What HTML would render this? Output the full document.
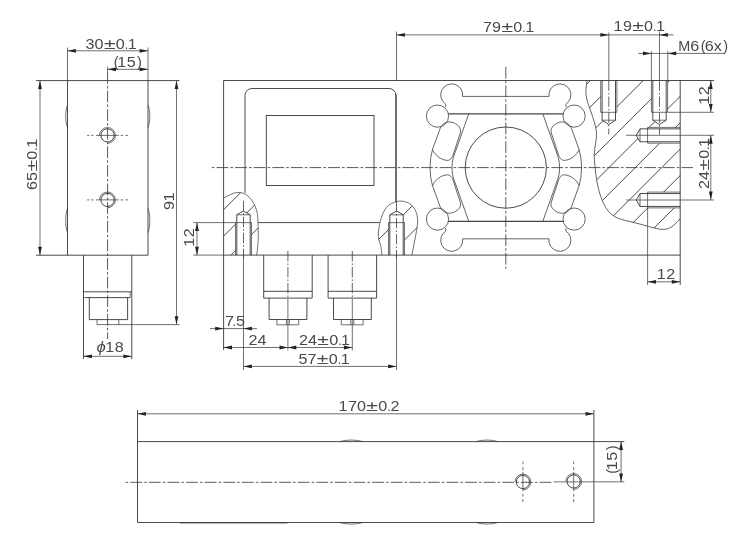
<!DOCTYPE html>
<html><head><meta charset="utf-8"><title>Dimensional drawing</title>
<style>
html,body{margin:0;padding:0;background:#fff;}
svg{display:block;}
.m{fill:none;stroke:#2b2b2b;stroke-width:0.85;}
.m2{fill:none;stroke:#444;stroke-width:1.15;}
.t{fill:none;stroke:#333;stroke-width:0.7;}
.c{fill:none;stroke:#3c3c3c;stroke-width:0.85;stroke-dasharray:11.8 2.1 2.6 2.1;}
.c2{fill:none;stroke:#3c3c3c;stroke-width:0.8;stroke-dasharray:10.4 2 1.6 2;}
.d{fill:none;stroke:#333;stroke-width:0.7;stroke-dasharray:3 2;}
.a{fill:#222;stroke:none;}
.h{fill:none;stroke:#2b2b2b;stroke-width:0.85;}
.n{fill:none;stroke:#333;stroke-width:0.75;}
text{font-family:"Liberation Sans",sans-serif;fill:#4a4a4a;}
svg{will-change:transform;}
</style></head><body>
<svg width="745" height="550" viewBox="0 0 745 550">
<defs>
<clipPath id="cpL"><path clip-rule="evenodd" d="M223.6,198.2 C229,195 234,192.4 239,192.5 C245,192.7 250.5,196 255.4,207 C257.5,212 258,217 257.9,222.5 C258.5,230 258.7,243 256.6,255.1 L223.6,255.1 Z M235.5,222.6 H251.5 V255.1 H235.5 Z M236.8,222.6 V214.8 L243.5,211 L250.2,214.8 V222.6 Z"/></clipPath>
<clipPath id="cpR"><path clip-rule="evenodd" d="M381.9,255.1 C381.5,250 381.2,248 380.6,245.4 C379.5,241 378.2,239 378.3,235.2 C378.3,231 379,227 380,222.5 C381.3,217 383,212.5 385.7,208.4 C388,205.3 390.5,203.8 393.4,202.7 C396,201.6 398.5,201 401,201.1 C404.5,201.2 407.5,202.2 409.9,203.9 C412.5,205.8 414.5,208 415.7,211 C417,214.2 417.6,217.5 417.6,221.2 C417.6,226 416.6,231 415.7,235.2 L411.9,255.1 Z M388.5,222.6 H404.5 V255.1 H388.5 Z M389.8,222.6 V214.8 L396.5,211 L403.2,214.8 V222.6 Z"/></clipPath>
<clipPath id="cpS"><path clip-rule="evenodd" d="M587.2,80.5 C586,86 585.6,91 586.1,95.1 C586.8,101 589,106 590.7,110.9 C593,118 596,126 596.5,132.4 C597,140 594.5,146 594.3,154 C594.2,158 594.4,161 594.8,164.4 C595.3,170 596,177 597.2,183 C598.3,189 600,195 602.2,200.3 C604.3,205.5 607,210.5 610.9,213.9 C615,217.5 620,219.2 625.2,220.4 C631,221.8 637,223.3 642.4,224.7 C647.5,226 652,227.6 656.8,228.6 C661,229.5 665,229.8 668.5,228.5 C673,226.8 677,222.5 680.2,218.5 L680.2,80.5 Z M600.7,80.5 H616.9 V112.3 H600.7 Z M602.1,112.3 V120.2 L608.8,124.5 L615.5,120.2 V112.3 Z M651.4,80.5 H667.6 V112.3 H651.4 Z M652.8,112.3 V120.2 L659.5,124.5 L666.2,120.2 V112.3 Z M680.2,127.4 H647.6 V143.2 H680.2 Z M647.6,128.85 H640 L636.3,135.3 L640,141.75 H647.6 Z M680.2,192.1 H647.6 V207.9 H680.2 Z M647.6,193.55 H640 L636.3,200 L640,206.45 H647.6 Z"/></clipPath>
</defs>
<line class="m" x1="36" y1="80.6" x2="179.5" y2="80.6"/>
<line class="m" x1="36" y1="255.2" x2="148.0" y2="255.2"/>
<line class="t" x1="67.5" y1="47.5" x2="67.5" y2="80.6"/>
<line class="m" x1="67.5" y1="80.6" x2="67.5" y2="255.2"/>
<line class="t" x1="148.0" y1="47.5" x2="148.0" y2="80.6"/>
<line class="m" x1="148.0" y1="80.6" x2="148.0" y2="255.2"/>
<path class="t" d="M67.5,105 C65.1,111 65.1,121.5 67.5,127.5"/>
<path class="t" d="M148.0,105 C150.4,111 150.4,121.5 148.0,127.5"/>
<path class="t" d="M67.5,208.5 C65.1,214.5 65.1,226.5 67.5,232.5"/>
<path class="t" d="M148.0,208.5 C150.4,214.5 150.4,226.5 148.0,232.5"/>
<line class="c" x1="107.6" y1="72" x2="107.6" y2="339"/>
<circle class="m" cx="107.5" cy="135.4" r="6.6"/>
<path class="t" d="M99.6,135.4 A7.9,7.9 0 1 1 107.5,143.3"/>
<path class="t" d="M87.1,135.4 h2.3 M91.2,135.4 h2.3 M96,135.4 H118.8 M120.7,135.4 h2.4 M125.4,135.4 h2.6"/>
<circle class="m" cx="107.5" cy="199.9" r="6.6"/>
<path class="t" d="M99.6,199.9 A7.9,7.9 0 1 1 107.5,207.8"/>
<path class="t" d="M87.1,199.9 h2.3 M91.2,199.9 h2.3 M96,199.9 H118.8 M120.7,199.9 h2.4 M125.4,199.9 h2.6"/>
<line class="m" x1="83.5" y1="255.2" x2="83.5" y2="359"/>
<line class="m" x1="131.8" y1="255.2" x2="131.8" y2="359"/>
<line class="m" x1="83.5" y1="291.8" x2="131.8" y2="291.8"/>
<line class="m" x1="84.3" y1="297.6" x2="130.20000000000002" y2="297.6"/>
<line class="t" x1="130.20000000000002" y1="291.8" x2="130.20000000000002" y2="297.6"/>
<path class="m" d="M89.3,297.6 V319.6 H127.6 V297.6"/>
<path class="t" d="M97,319.6 V324.6 H179.5"/>
<line class="t" x1="118.8" y1="319.6" x2="118.8" y2="324.6"/>
<line class="t" x1="67.5" y1="50.8" x2="148.0" y2="50.8"/>
<polygon class="a" points="67.50,50.80 75.90,48.90 75.90,52.70"/>
<polygon class="a" points="148.00,50.80 139.60,48.90 139.60,52.70"/>
<text transform="translate(85.6,48.9)" font-size="14.5"><tspan x="0.00" textLength="9.0" lengthAdjust="spacingAndGlyphs">3</tspan><tspan x="9.00" textLength="9.0" lengthAdjust="spacingAndGlyphs">0</tspan><tspan x="18.30" textLength="11.6" lengthAdjust="spacingAndGlyphs">±</tspan><tspan x="30.20" textLength="9.0" lengthAdjust="spacingAndGlyphs">0</tspan><tspan x="39.20" textLength="3.4" lengthAdjust="spacingAndGlyphs">.</tspan><tspan x="42.10" textLength="9.0" lengthAdjust="spacingAndGlyphs">1</tspan></text>
<line class="t" x1="107.6" y1="69.3" x2="148.0" y2="69.3"/>
<polygon class="a" points="107.60,69.30 116.00,67.40 116.00,71.20"/>
<polygon class="a" points="148.00,69.30 139.60,67.40 139.60,71.20"/>
<line class="t" x1="107.6" y1="66.6" x2="107.6" y2="72"/>
<text transform="translate(113.7,66.7)" font-size="14.5"><tspan x="0.00">(</tspan><tspan x="3.50" textLength="9.0" lengthAdjust="spacingAndGlyphs">1</tspan><tspan x="13.00" textLength="9.0" lengthAdjust="spacingAndGlyphs">5</tspan><tspan x="23.40">)</tspan></text>
<line class="t" x1="40" y1="80.6" x2="40" y2="255.2"/>
<polygon class="a" points="40.00,80.60 38.10,89.00 41.90,89.00"/>
<polygon class="a" points="40.00,255.20 38.10,246.80 41.90,246.80"/>
<text transform="translate(37.3,189.9) rotate(-90)" font-size="14.5"><tspan x="0.00" textLength="9.0" lengthAdjust="spacingAndGlyphs">6</tspan><tspan x="9.00" textLength="9.0" lengthAdjust="spacingAndGlyphs">5</tspan><tspan x="18.30" textLength="11.6" lengthAdjust="spacingAndGlyphs">±</tspan><tspan x="30.20" textLength="9.0" lengthAdjust="spacingAndGlyphs">0</tspan><tspan x="39.20" textLength="3.4" lengthAdjust="spacingAndGlyphs">.</tspan><tspan x="42.10" textLength="9.0" lengthAdjust="spacingAndGlyphs">1</tspan></text>
<line class="t" x1="176.5" y1="80.6" x2="176.5" y2="324.6"/>
<polygon class="a" points="176.50,80.60 174.60,89.00 178.40,89.00"/>
<polygon class="a" points="176.50,324.60 174.60,316.20 178.40,316.20"/>
<text transform="translate(174.2,209.9) rotate(-90)" font-size="14.5"><tspan x="0.00" textLength="9.0" lengthAdjust="spacingAndGlyphs">9</tspan><tspan x="8.50" textLength="9.0" lengthAdjust="spacingAndGlyphs">1</tspan></text>
<line class="t" x1="83.5" y1="356.3" x2="131.8" y2="356.3"/>
<polygon class="a" points="83.50,356.30 91.90,354.40 91.90,358.20"/>
<polygon class="a" points="131.80,356.30 123.40,354.40 123.40,358.20"/>
<text transform="translate(96.5,352.0)" font-size="14.5"><tspan x="0.00" font-style="italic" textLength="9.3" lengthAdjust="spacingAndGlyphs">ϕ</tspan><tspan x="8.80" textLength="9.0" lengthAdjust="spacingAndGlyphs">1</tspan><tspan x="18.30" textLength="9.0" lengthAdjust="spacingAndGlyphs">8</tspan></text>
<line class="m" x1="223.6" y1="80.5" x2="714" y2="80.5"/>
<line class="m" x1="223.6" y1="255.1" x2="680.2" y2="255.1"/>
<line class="m" x1="223.6" y1="80.5" x2="223.6" y2="350"/>
<line class="m" x1="680.2" y1="80.5" x2="680.2" y2="285"/>
<line class="c" stroke-dashoffset="13.5" x1="211.4" y1="167.6" x2="693" y2="167.6"/>
<path class="m" d="M245,192.8 V95.5 A7,7 0 0 1 252,88.5 H389 A7,7 0 0 1 396,95.5 V202"/>
<line class="m" x1="396" y1="94" x2="396" y2="202"/>
<rect class="m" x="266.3" y="115.5" width="107.7" height="70.0"/>
<line class="t" x1="193.3" y1="222.6" x2="235.6" y2="222.6"/>
<line class="m" x1="257.9" y1="222.6" x2="379.8" y2="222.6"/>
<path class="t" d="M223.6,198.2 C229,195 234,192.4 239,192.5 C245,192.7 250.5,196 255.4,207 C257.5,212 258,217 257.9,222.5 C258.5,230 258.7,243 256.6,255.1"/>
<path class="t" d="M381.9,255.1 C381.5,250 381.2,248 380.6,245.4 C379.5,241 378.2,239 378.3,235.2 C378.3,231 379,227 380,222.5 C381.3,217 383,212.5 385.7,208.4 C388,205.3 390.5,203.8 393.4,202.7 C396,201.6 398.5,201 401,201.1 C404.5,201.2 407.5,202.2 409.9,203.9 C412.5,205.8 414.5,208 415.7,211 C417,214.2 417.6,217.5 417.6,221.2 C417.6,226 416.6,231 415.7,235.2 L411.9,255.1"/>
<line class="t" x1="235.5" y1="222.6" x2="235.5" y2="255.1"/>
<line class="t" x1="251.5" y1="222.6" x2="251.5" y2="255.1"/>
<line class="t" x1="235.5" y1="222.6" x2="251.5" y2="222.6"/>
<path class="m" d="M236.8,255.1 V214.8 L243.5,211 L250.2,214.8 V255.1"/>
<line class="t" x1="236.8" y1="214.8" x2="250.2" y2="214.8"/>
<line class="t" x1="388.5" y1="222.6" x2="388.5" y2="255.1"/>
<line class="t" x1="404.5" y1="222.6" x2="404.5" y2="255.1"/>
<line class="t" x1="388.5" y1="222.6" x2="404.5" y2="222.6"/>
<path class="m" d="M389.8,255.1 V214.8 L396.5,211 L403.2,214.8 V255.1"/>
<line class="t" x1="389.8" y1="214.8" x2="403.2" y2="214.8"/>
<line class="c2" x1="243.5" y1="200.8" x2="243.5" y2="258"/>
<line class="t" x1="243.5" y1="255" x2="243.5" y2="370"/>
<line class="c2" x1="396.5" y1="202" x2="396.5" y2="258"/>
<line class="t" x1="396.5" y1="255" x2="396.5" y2="370"/>
<line class="t" x1="396.5" y1="31.5" x2="396.5" y2="80.5"/>
<g clip-path="url(#cpL)"><path class="h" d="M80.5,300 L320.5,60 M106.9,300 L346.9,60 M133.3,300 L373.3,60 M159.7,300 L399.7,60 M186.1,300 L426.1,60 M212.5,300 L452.5,60 M238.9,300 L478.9,60 M265.3,300 L505.3,60 M291.7,300 L531.7,60 M318.1,300 L558.1,60 M344.5,300 L584.5,60 M370.9,300 L610.9,60 M397.3,300 L637.3,60 M423.7,300 L663.7,60 M450.1,300 L690.1,60 M476.5,300 L716.5,60 M502.9,300 L742.9,60 M529.3,300 L769.3,60 M555.7,300 L795.7,60 M582.1,300 L822.1,60 M608.5,300 L848.5,60 M634.9,300 L874.9,60 M661.3,300 L901.3,60 M687.7,300 L927.7,60"/></g>
<g clip-path="url(#cpR)"><path class="h" d="M80.5,300 L320.5,60 M106.9,300 L346.9,60 M133.3,300 L373.3,60 M159.7,300 L399.7,60 M186.1,300 L426.1,60 M212.5,300 L452.5,60 M238.9,300 L478.9,60 M265.3,300 L505.3,60 M291.7,300 L531.7,60 M318.1,300 L558.1,60 M344.5,300 L584.5,60 M370.9,300 L610.9,60 M397.3,300 L637.3,60 M423.7,300 L663.7,60 M450.1,300 L690.1,60 M476.5,300 L716.5,60 M502.9,300 L742.9,60 M529.3,300 L769.3,60 M555.7,300 L795.7,60 M582.1,300 L822.1,60 M608.5,300 L848.5,60 M634.9,300 L874.9,60 M661.3,300 L901.3,60 M687.7,300 L927.7,60"/></g>
<line class="m" x1="263.7" y1="255.1" x2="263.7" y2="298.1"/>
<line class="m" x1="312.2" y1="255.1" x2="312.2" y2="298.1"/>
<line class="m" x1="263.7" y1="291.3" x2="312.2" y2="291.3"/>
<line class="m" x1="263.7" y1="298.1" x2="312.2" y2="298.1"/>
<path class="m" d="M269.09999999999997,298.1 V319.5 H306.9 V298.1"/>
<path class="t" d="M276.9,319.5 V324.8 H298.7 V319.5"/>
<path class="t" d="M286.4,319.5 V324.8 M289.4,319.5 V324.8"/>
<line class="c2" x1="287.9" y1="251" x2="287.9" y2="299"/>
<line class="t" x1="287.9" y1="299" x2="287.9" y2="350.4"/>
<line class="m" x1="328.1" y1="255.1" x2="328.1" y2="298.1"/>
<line class="m" x1="376.6" y1="255.1" x2="376.6" y2="298.1"/>
<line class="m" x1="328.1" y1="291.3" x2="376.6" y2="291.3"/>
<line class="m" x1="328.1" y1="298.1" x2="376.6" y2="298.1"/>
<path class="m" d="M333.5,298.1 V319.5 H371.3 V298.1"/>
<path class="t" d="M341.3,319.5 V324.8 H363.1 V319.5"/>
<path class="t" d="M350.8,319.5 V324.8 M353.8,319.5 V324.8"/>
<line class="c2" x1="352.3" y1="251" x2="352.3" y2="299"/>
<line class="t" x1="352.3" y1="299" x2="352.3" y2="350.4"/>
<circle class="m" cx="505.8" cy="167.6" r="40.6"/>
<line class="c" x1="505.8" y1="66.8" x2="505.8" y2="268.8"/>
<path class="n" d="M441.00,126.60 C444.00,122.30 448.50,121.30 452.00,122.30 C456.80,123.60 461.00,127.00 460.60,132.00 L453.40,154.00 C452.40,158.00 449.80,160.50 447.30,160.40 C441.00,160.00 435.00,155.50 432.50,149.50"/>
<path class="n" d="M440.70,126.90 L432.50,149.50 Q430.00,158.00 430.00,167.60"/>
<path class="n" d="M468.70,114.10 L453.30,157.50 Q452.00,162.00 452.00,167.60"/>
<path class="n" d="M441.00,208.60 C444.00,212.90 448.50,213.90 452.00,212.90 C456.80,211.60 461.00,208.20 460.60,203.20 L453.40,181.20 C452.40,177.20 449.80,174.70 447.30,174.80 C441.00,175.20 435.00,179.70 432.50,185.70"/>
<path class="n" d="M440.70,208.30 L432.50,185.70 Q430.00,177.20 430.00,167.60"/>
<path class="n" d="M468.70,221.10 L453.30,177.70 Q452.00,173.20 452.00,167.60"/>
<path class="n" d="M570.60,126.60 C567.60,122.30 563.10,121.30 559.60,122.30 C554.80,123.60 550.60,127.00 551.00,132.00 L558.20,154.00 C559.20,158.00 561.80,160.50 564.30,160.40 C570.60,160.00 576.60,155.50 579.10,149.50"/>
<path class="n" d="M570.90,126.90 L579.10,149.50 Q581.60,158.00 581.60,167.60"/>
<path class="n" d="M542.90,114.10 L558.30,157.50 Q559.60,162.00 559.60,167.60"/>
<path class="n" d="M570.60,208.60 C567.60,212.90 563.10,213.90 559.60,212.90 C554.80,211.60 550.60,208.20 551.00,203.20 L558.20,181.20 C559.20,177.20 561.80,174.70 564.30,174.80 C570.60,175.20 576.60,179.70 579.10,185.70"/>
<path class="n" d="M570.90,208.30 L579.10,185.70 Q581.60,177.20 581.60,167.60"/>
<path class="n" d="M542.90,221.10 L558.30,177.70 Q559.60,173.20 559.60,167.60"/>
<circle class="n" cx="437.5" cy="116.1" r="11.1"/>
<circle class="n" cx="437.5" cy="219.1" r="11.1"/>
<circle class="n" cx="574.1" cy="116.1" r="11.1"/>
<circle class="n" cx="574.1" cy="219.1" r="11.1"/>
<path class="n" d="M462.60,96.4 H549.00 A11,11 0 1 1 565.90,104.12 V107.0 M445.7,107.0 V104.12 A11,11 0 1 1 462.60,96.4"/>
<line class="m2" x1="448.3" y1="113.8" x2="563.3" y2="113.8"/>
<path class="n" d="M462.60,238.79999999999998 H549.00 A11,11 0 1 0 565.90,231.08 V228.2 M445.7,228.2 V231.08 A11,11 0 1 0 462.60,238.79999999999998"/>
<line class="m2" x1="448.3" y1="221.39999999999998" x2="563.3" y2="221.39999999999998"/>
<path class="n" d="M587.2,80.5 C586,86 585.6,91 586.1,95.1 C586.8,101 589,106 590.7,110.9 C593,118 596,126 596.5,132.4 C597,140 594.5,146 594.3,154 C594.2,158 594.4,161 594.8,164.4 C595.3,170 596,177 597.2,183 C598.3,189 600,195 602.2,200.3 C604.3,205.5 607,210.5 610.9,213.9 C615,217.5 620,219.2 625.2,220.4 C631,221.8 637,223.3 642.4,224.7 C647.5,226 652,227.6 656.8,228.6 C661,229.5 665,229.8 668.5,228.5 C673,226.8 677,222.5 680.2,218.5"/>
<g clip-path="url(#cpS)"><path class="h" d="M80.5,300 L320.5,60 M106.9,300 L346.9,60 M133.3,300 L373.3,60 M159.7,300 L399.7,60 M186.1,300 L426.1,60 M212.5,300 L452.5,60 M238.9,300 L478.9,60 M265.3,300 L505.3,60 M291.7,300 L531.7,60 M318.1,300 L558.1,60 M344.5,300 L584.5,60 M370.9,300 L610.9,60 M397.3,300 L637.3,60 M423.7,300 L663.7,60 M450.1,300 L690.1,60 M476.5,300 L716.5,60 M502.9,300 L742.9,60 M529.3,300 L769.3,60 M555.7,300 L795.7,60 M582.1,300 L822.1,60 M608.5,300 L848.5,60 M634.9,300 L874.9,60 M661.3,300 L901.3,60 M687.7,300 L927.7,60"/></g>
<line class="t" x1="600.6999999999999" y1="80.5" x2="600.6999999999999" y2="112.3"/>
<line class="t" x1="616.9" y1="80.5" x2="616.9" y2="112.3"/>
<line class="t" x1="600.6999999999999" y1="112.3" x2="616.9" y2="112.3"/>
<path class="m" d="M602.0999999999999,80.5 V120.2 L608.8,124.5 L615.5,120.2 V80.5"/>
<line class="t" x1="602.0999999999999" y1="120.2" x2="615.5" y2="120.2"/>
<line class="t" x1="651.4" y1="80.5" x2="651.4" y2="112.3"/>
<line class="t" x1="667.6" y1="80.5" x2="667.6" y2="112.3"/>
<line class="t" x1="651.4" y1="112.3" x2="667.6" y2="112.3"/>
<path class="m" d="M652.8,80.5 V120.2 L659.5,124.5 L666.2,120.2 V80.5"/>
<line class="t" x1="652.8" y1="120.2" x2="666.2" y2="120.2"/>
<line class="t" x1="608.8" y1="32.5" x2="608.8" y2="80.5"/>
<line class="c2" x1="608.8" y1="80.5" x2="608.8" y2="134.6"/>
<line class="t" x1="659.5" y1="31.4" x2="659.5" y2="80.5"/>
<line class="c2" x1="659.5" y1="80.5" x2="659.5" y2="134.6"/>
<line class="t" x1="647.6" y1="127.4" x2="680.2" y2="127.4"/>
<line class="t" x1="647.6" y1="143.20000000000002" x2="680.2" y2="143.20000000000002"/>
<line class="t" x1="647.6" y1="127.4" x2="647.6" y2="143.20000000000002"/>
<path class="m" d="M680.2,128.85000000000002 H640 L636.3,135.3 L640,141.75 H680.2"/>
<line class="t" x1="640" y1="128.85000000000002" x2="640" y2="141.75"/>
<line class="t" x1="647.6" y1="192.1" x2="680.2" y2="192.1"/>
<line class="t" x1="647.6" y1="207.9" x2="680.2" y2="207.9"/>
<line class="t" x1="647.6" y1="192.1" x2="647.6" y2="207.9"/>
<path class="m" d="M680.2,193.55 H640 L636.3,200.0 L640,206.45 H680.2"/>
<line class="t" x1="640" y1="193.55" x2="640" y2="206.45"/>
<line class="t" x1="626" y1="135.3" x2="714" y2="135.3"/>
<line class="t" x1="626" y1="200" x2="714" y2="200"/>
<line class="t" x1="647.6" y1="207.9" x2="647.6" y2="285"/>
<line class="t" x1="651.4" y1="50.8" x2="651.4" y2="80.5"/>
<line class="t" x1="667.8" y1="50.8" x2="667.8" y2="80.5"/>
<line class="t" x1="396.5" y1="34.9" x2="673.6" y2="34.9"/>
<polygon class="a" points="396.50,34.90 404.90,33.00 404.90,36.80"/>
<polygon class="a" points="608.80,34.90 600.40,33.00 600.40,36.80"/>
<polygon class="a" points="659.50,34.90 667.90,33.00 667.90,36.80"/>
<text transform="translate(483.1,31.7)" font-size="14.5"><tspan x="0.00" textLength="9.0" lengthAdjust="spacingAndGlyphs">7</tspan><tspan x="9.00" textLength="9.0" lengthAdjust="spacingAndGlyphs">9</tspan><tspan x="18.30" textLength="11.6" lengthAdjust="spacingAndGlyphs">±</tspan><tspan x="30.20" textLength="9.0" lengthAdjust="spacingAndGlyphs">0</tspan><tspan x="39.20" textLength="3.4" lengthAdjust="spacingAndGlyphs">.</tspan><tspan x="42.10" textLength="9.0" lengthAdjust="spacingAndGlyphs">1</tspan></text>
<text transform="translate(613.9,31.4)" font-size="14.5"><tspan x="-0.50" textLength="9.0" lengthAdjust="spacingAndGlyphs">1</tspan><tspan x="9.00" textLength="9.0" lengthAdjust="spacingAndGlyphs">9</tspan><tspan x="18.30" textLength="11.6" lengthAdjust="spacingAndGlyphs">±</tspan><tspan x="30.20" textLength="9.0" lengthAdjust="spacingAndGlyphs">0</tspan><tspan x="39.20" textLength="3.4" lengthAdjust="spacingAndGlyphs">.</tspan><tspan x="42.10" textLength="9.0" lengthAdjust="spacingAndGlyphs">1</tspan></text>
<line class="t" x1="638.2" y1="53.4" x2="724.8" y2="53.4"/>
<polygon class="a" points="651.40,53.40 643.00,51.50 643.00,55.30"/>
<polygon class="a" points="667.80,53.40 676.20,51.50 676.20,55.30"/>
<text transform="translate(678.2,51.3)" font-size="14.5"><tspan x="0.00" textLength="12.0" lengthAdjust="spacingAndGlyphs">M</tspan><tspan x="12.00" textLength="9.0" lengthAdjust="spacingAndGlyphs">6</tspan><tspan x="22.60">(</tspan><tspan x="26.60" textLength="9.0" lengthAdjust="spacingAndGlyphs">6</tspan><tspan x="35.60" textLength="8.1" lengthAdjust="spacingAndGlyphs">x</tspan><tspan x="45.10">)</tspan></text>
<line class="t" x1="667.8" y1="112.3" x2="714" y2="112.3"/>
<line class="t" x1="710.8" y1="80.5" x2="710.8" y2="112.3"/>
<polygon class="a" points="710.80,80.50 708.90,88.90 712.70,88.90"/>
<polygon class="a" points="710.80,112.30 708.90,103.90 712.70,103.90"/>
<text transform="translate(709.2,104.2) rotate(-90)" font-size="14.5"><tspan x="-0.50" textLength="9.0" lengthAdjust="spacingAndGlyphs">1</tspan><tspan x="9.00" textLength="9.0" lengthAdjust="spacingAndGlyphs">2</tspan></text>
<line class="t" x1="710.8" y1="135.3" x2="710.8" y2="200"/>
<polygon class="a" points="710.80,135.30 708.90,143.70 712.70,143.70"/>
<polygon class="a" points="710.80,200.00 708.90,191.60 712.70,191.60"/>
<text transform="translate(709.2,189.0) rotate(-90)" font-size="14.5"><tspan x="0.00" textLength="9.0" lengthAdjust="spacingAndGlyphs">2</tspan><tspan x="9.00" textLength="9.0" lengthAdjust="spacingAndGlyphs">4</tspan><tspan x="18.30" textLength="11.6" lengthAdjust="spacingAndGlyphs">±</tspan><tspan x="30.20" textLength="9.0" lengthAdjust="spacingAndGlyphs">0</tspan><tspan x="39.20" textLength="3.4" lengthAdjust="spacingAndGlyphs">.</tspan><tspan x="42.10" textLength="9.0" lengthAdjust="spacingAndGlyphs">1</tspan></text>
<line class="t" x1="647.6" y1="281.8" x2="680.2" y2="281.8"/>
<polygon class="a" points="647.60,281.80 656.00,279.90 656.00,283.70"/>
<polygon class="a" points="680.20,281.80 671.80,279.90 671.80,283.70"/>
<text transform="translate(657.3,279.3)" font-size="14.5"><tspan x="-0.50" textLength="9.0" lengthAdjust="spacingAndGlyphs">1</tspan><tspan x="9.00" textLength="9.0" lengthAdjust="spacingAndGlyphs">2</tspan></text>
<line class="t" x1="197" y1="222.6" x2="197" y2="255.1"/>
<polygon class="a" points="197.00,222.60 195.10,231.00 198.90,231.00"/>
<polygon class="a" points="197.00,255.10 195.10,246.70 198.90,246.70"/>
<line class="t" x1="193.3" y1="255.1" x2="223.6" y2="255.1"/>
<text transform="translate(193.6,246.2) rotate(-90)" font-size="14.5"><tspan x="-0.50" textLength="9.0" lengthAdjust="spacingAndGlyphs">1</tspan><tspan x="9.00" textLength="9.0" lengthAdjust="spacingAndGlyphs">2</tspan></text>
<line class="t" x1="210" y1="328.6" x2="257" y2="328.6"/>
<polygon class="a" points="223.60,328.60 215.20,326.70 215.20,330.50"/>
<polygon class="a" points="243.50,328.60 251.90,326.70 251.90,330.50"/>
<text transform="translate(225.1,326.1)" font-size="14.5"><tspan x="0.00" textLength="9.0" lengthAdjust="spacingAndGlyphs">7</tspan><tspan x="7.50" textLength="3.4" lengthAdjust="spacingAndGlyphs">.</tspan><tspan x="10.90" textLength="9.0" lengthAdjust="spacingAndGlyphs">5</tspan></text>
<line class="t" x1="223.6" y1="347.5" x2="352.3" y2="347.5"/>
<polygon class="a" points="223.60,347.50 232.00,345.60 232.00,349.40"/>
<polygon class="a" points="287.90,347.50 279.50,345.60 279.50,349.40"/>
<polygon class="a" points="287.90,347.50 296.30,345.60 296.30,349.40"/>
<polygon class="a" points="352.30,347.50 343.90,345.60 343.90,349.40"/>
<text transform="translate(248.6,345.2)" font-size="14.5"><tspan x="0.00" textLength="9.0" lengthAdjust="spacingAndGlyphs">2</tspan><tspan x="9.00" textLength="9.0" lengthAdjust="spacingAndGlyphs">4</tspan></text>
<text transform="translate(299.0,345.0)" font-size="14.5"><tspan x="0.00" textLength="9.0" lengthAdjust="spacingAndGlyphs">2</tspan><tspan x="9.00" textLength="9.0" lengthAdjust="spacingAndGlyphs">4</tspan><tspan x="18.30" textLength="11.6" lengthAdjust="spacingAndGlyphs">±</tspan><tspan x="30.20" textLength="9.0" lengthAdjust="spacingAndGlyphs">0</tspan><tspan x="39.20" textLength="3.4" lengthAdjust="spacingAndGlyphs">.</tspan><tspan x="42.10" textLength="9.0" lengthAdjust="spacingAndGlyphs">1</tspan></text>
<line class="t" x1="243.5" y1="366.4" x2="396.5" y2="366.4"/>
<polygon class="a" points="243.50,366.40 251.90,364.50 251.90,368.30"/>
<polygon class="a" points="396.50,366.40 388.10,364.50 388.10,368.30"/>
<text transform="translate(298.55,363.6)" font-size="14.5"><tspan x="0.00" textLength="9.0" lengthAdjust="spacingAndGlyphs">5</tspan><tspan x="9.00" textLength="9.0" lengthAdjust="spacingAndGlyphs">7</tspan><tspan x="18.30" textLength="11.6" lengthAdjust="spacingAndGlyphs">±</tspan><tspan x="30.20" textLength="9.0" lengthAdjust="spacingAndGlyphs">0</tspan><tspan x="39.20" textLength="3.4" lengthAdjust="spacingAndGlyphs">.</tspan><tspan x="42.10" textLength="9.0" lengthAdjust="spacingAndGlyphs">1</tspan></text>
<line class="m" x1="137.5" y1="410" x2="137.5" y2="522.5"/>
<line class="m" x1="593.9" y1="410" x2="593.9" y2="522.5"/>
<line class="m" x1="137.5" y1="441.6" x2="624.3" y2="441.6"/>
<line class="m" x1="137.5" y1="522.5" x2="593.9" y2="522.5"/>
<line class="c" stroke-dashoffset="13.8" x1="125.5" y1="482.3" x2="552.5" y2="482.3"/>
<line class="t" x1="553.5" y1="481.9" x2="624.3" y2="481.8"/>
<line class="t" x1="137.5" y1="413.8" x2="593.9" y2="413.8"/>
<polygon class="a" points="137.50,413.80 145.90,411.90 145.90,415.70"/>
<polygon class="a" points="593.90,413.80 585.50,411.90 585.50,415.70"/>
<text transform="translate(339.0,411.1)" font-size="14.5"><tspan x="-0.50" textLength="9.0" lengthAdjust="spacingAndGlyphs">1</tspan><tspan x="9.00" textLength="9.0" lengthAdjust="spacingAndGlyphs">7</tspan><tspan x="18.00" textLength="9.0" lengthAdjust="spacingAndGlyphs">0</tspan><tspan x="27.30" textLength="11.6" lengthAdjust="spacingAndGlyphs">±</tspan><tspan x="39.20" textLength="9.0" lengthAdjust="spacingAndGlyphs">0</tspan><tspan x="48.20" textLength="3.4" lengthAdjust="spacingAndGlyphs">.</tspan><tspan x="51.60" textLength="9.0" lengthAdjust="spacingAndGlyphs">2</tspan></text>
<path class="t" d="M340,441.6 C346,439.6 356.5,439.6 362.5,441.6"/>
<path class="t" d="M340,522.5 C346,524.5 356.5,524.5 362.5,522.5"/>
<path class="t" d="M476.3,441.6 C482.3,439.6 491.5,439.6 497.5,441.6"/>
<path class="t" d="M476.3,522.5 C482.3,524.5 491.5,524.5 497.5,522.5"/>
<line class="t" x1="180" y1="523.0" x2="287.5" y2="523.0"/>
<circle class="m" cx="522.9" cy="482.0" r="6.6"/>
<path class="t" d="M515.0,482.0 A7.9,7.9 0 1 1 522.9,489.9"/>
<path class="t" d="M522.9,461.6 v2.6 M522.9,467.1 v3 M522.9,471.9 V491.2 M522.9,493.7 v3 M522.9,499.1 v3"/>
<circle class="m" cx="573.7" cy="481.5" r="6.6"/>
<path class="t" d="M565.8000000000001,481.5 A7.9,7.9 0 1 1 573.7,489.4"/>
<path class="t" d="M573.7,461.6 v2.6 M573.7,467.1 v3 M573.7,471.9 V491.2 M573.7,493.7 v3 M573.7,499.1 v3"/>
<line class="t" x1="621.1" y1="441.6" x2="621.1" y2="481.9"/>
<polygon class="a" points="621.10,441.60 619.20,450.00 623.00,450.00"/>
<polygon class="a" points="621.10,481.90 619.20,473.50 623.00,473.50"/>
<text transform="translate(616.6,473.7) rotate(-90)" font-size="14.5"><tspan x="0.00">(</tspan><tspan x="3.50" textLength="9.0" lengthAdjust="spacingAndGlyphs">1</tspan><tspan x="13.00" textLength="9.0" lengthAdjust="spacingAndGlyphs">5</tspan><tspan x="23.40">)</tspan></text>
</svg>
</body></html>
